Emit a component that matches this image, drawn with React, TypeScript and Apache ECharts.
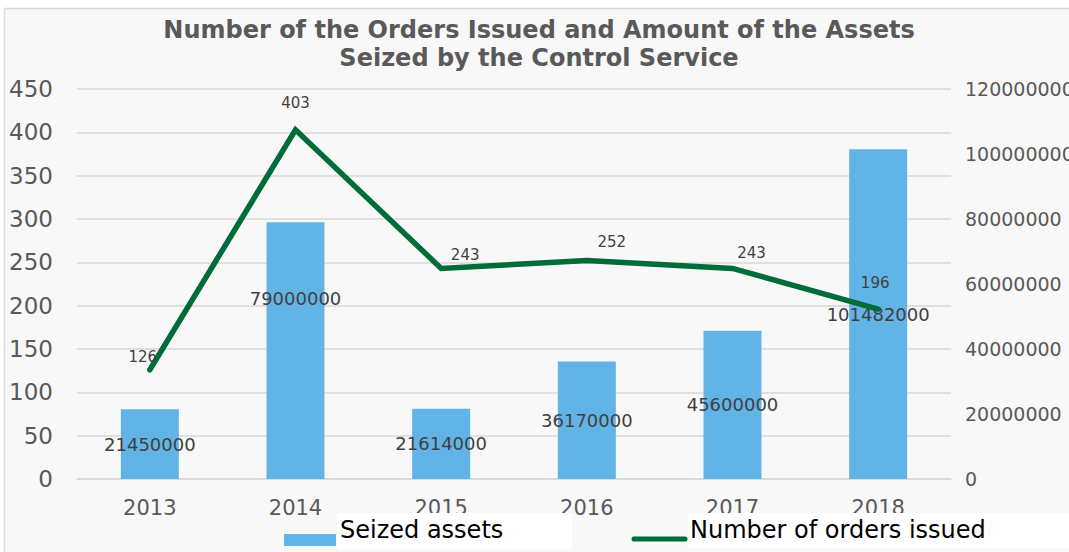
import React, { useEffect, useRef } from 'react';
import * as echarts from 'echarts';

const categories = ['2013', '2014', '2015', '2016', '2017', '2018'];
const seizedAssets = [21450000, 79000000, 21614000, 36170000, 45600000, 101482000];
const ordersIssued = [126, 403, 243, 252, 243, 196];
const leftAxisMax = 450;
const leftAxisStep = 50;
const rightAxisMax = 120000000;
const rightAxisStep = 20000000;

const titleText = 'Number of the Orders Issued and Amount of the Assets\nSeized by the Control Service';
const barName = 'Seized assets';
const lineName = 'Number of orders issued';

// label layout tweaks (pixels), kept apart from the data
const barLabelOffsets = [[0, 0], [0, -52], [0, 0], [0, 0], [0, 0], [0, 0]];
const lineLabelOffsets = [[-7, 0], [0, -14], [24, -1], [25, -6], [19, -3], [-3, -13]];

const BAR_COLOR = '#63b4e6';
const LINE_COLOR = '#006d38';
const GRID_COLOR = '#d9d9d9';
const AXIS_TEXT = '#595959';
const LABEL_TEXT = '#404040';
const FONT = '"DejaVu Sans", Verdana, sans-serif';

export default function App() {
  const ref = useRef<HTMLDivElement>(null);

  useEffect(() => {
    if (!ref.current) return;
    const chart = echarts.init(ref.current, null, { renderer: 'svg' });
    const option: any = {
      animation: false,
      backgroundColor: '#ffffff',
      textStyle: { fontFamily: FONT },
      title: {
        text: titleText,
        left: 539,
        top: 16,
        padding: 0,
        textAlign: 'center',
        textStyle: {
          fontFamily: FONT,
          fontSize: 24,
          fontWeight: 'bold',
          color: AXIS_TEXT,
          lineHeight: 28,
        },
      },
      grid: {
        left: 77,
        right: 118,
        top: 89,
        bottom: 73,
        containLabel: false,
        outerBoundsMode: 'none',
      },
      xAxis: {
        type: 'category',
        data: categories,
        axisTick: { show: false },
        axisLine: { show: true, lineStyle: { color: GRID_COLOR, width: 1.5 } },
        axisLabel: { color: AXIS_TEXT, fontSize: 21, margin: 18, fontFamily: FONT },
      },
      yAxis: [
        {
          type: 'value',
          min: 0,
          max: leftAxisMax,
          interval: leftAxisStep,
          axisLine: { show: false },
          axisTick: { show: false },
          axisLabel: { color: AXIS_TEXT, fontSize: 23, margin: 24, fontFamily: FONT },
          splitLine: { show: true, lineStyle: { color: GRID_COLOR, width: 1.5 } },
        },
        {
          type: 'value',
          min: 0,
          max: rightAxisMax,
          interval: rightAxisStep,
          position: 'right',
          axisLine: { show: false },
          axisTick: { show: false },
          axisLabel: {
            color: AXIS_TEXT,
            fontSize: 19,
            margin: 14,
            fontFamily: FONT,
            formatter: (v: number) => String(v),
          },
          splitLine: { show: false },
        },
      ],
      series: [
        {
          name: barName,
          type: 'bar',
          yAxisIndex: 1,
          barWidth: 58,
          itemStyle: { color: BAR_COLOR },
          data: seizedAssets.map((v, i) => ({
            value: v,
            label: { offset: barLabelOffsets[i] },
          })),
          label: {
            show: true,
            position: 'inside',
            color: LABEL_TEXT,
            fontSize: 18,
            fontFamily: FONT,
          },
          z: 2,
        },
        {
          name: lineName,
          type: 'line',
          yAxisIndex: 0,
          symbol: 'circle',
          symbolSize: 0.5,
          showSymbol: true,
          lineStyle: { color: LINE_COLOR, width: 5.5, cap: 'round', join: 'miter' },
          itemStyle: { color: LINE_COLOR },
          data: ordersIssued,
          label: {
            show: true,
            position: 'top',
            color: LABEL_TEXT,
            fontSize: 15,
            fontFamily: FONT,
          },
          labelLayout: (params: any) => {
            const o = lineLabelOffsets[params.dataIndex] || [0, 0];
            return { dx: o[0], dy: o[1], hideOverlap: false };
          },
          z: 3,
        },
      ],
      graphic: [
        {
          type: 'rect',
          z: -10,
          silent: true,
          shape: { x: 4.5, y: 8.5, width: 1100, height: 600 },
          style: { fill: '#f8f8f8', stroke: GRID_COLOR, lineWidth: 1.5 },
        },
        {
          type: 'rect',
          z: 50,
          silent: true,
          shape: { x: 337, y: 513, width: 235, height: 36 },
          style: { fill: '#ffffff' },
        },
        {
          type: 'rect',
          z: 50,
          silent: true,
          shape: { x: 688, y: 513, width: 400, height: 35 },
          style: { fill: '#ffffff' },
        },
        {
          type: 'rect',
          z: 51,
          silent: true,
          shape: { x: 284, y: 534, width: 52, height: 12 },
          style: { fill: BAR_COLOR },
        },
        {
          type: 'line',
          z: 51,
          silent: true,
          shape: { x1: 634, y1: 539, x2: 685, y2: 539 },
          style: { stroke: LINE_COLOR, lineWidth: 5, lineCap: 'round' },
        },
        {
          type: 'text',
          z: 52,
          silent: true,
          x: 340,
          y: 530,
          style: {
            text: barName,
            fill: '#000000',
            font: `24px ${FONT}`,
            textAlign: 'left',
            textVerticalAlign: 'middle',
            verticalAlign: 'middle',
          },
        },
        {
          type: 'text',
          z: 52,
          silent: true,
          x: 690,
          y: 530,
          style: {
            text: lineName,
            fill: '#000000',
            font: `24px ${FONT}`,
            textAlign: 'left',
            textVerticalAlign: 'middle',
            verticalAlign: 'middle',
          },
        },
      ],
    };
    chart.setOption(option);
    return () => {
      chart.dispose();
    };
  }, []);

  return (
    <div
      ref={ref}
      style={{ position: 'absolute', left: 0, top: 0, width: '1069px', height: '552px' }}
    />
  );
}
